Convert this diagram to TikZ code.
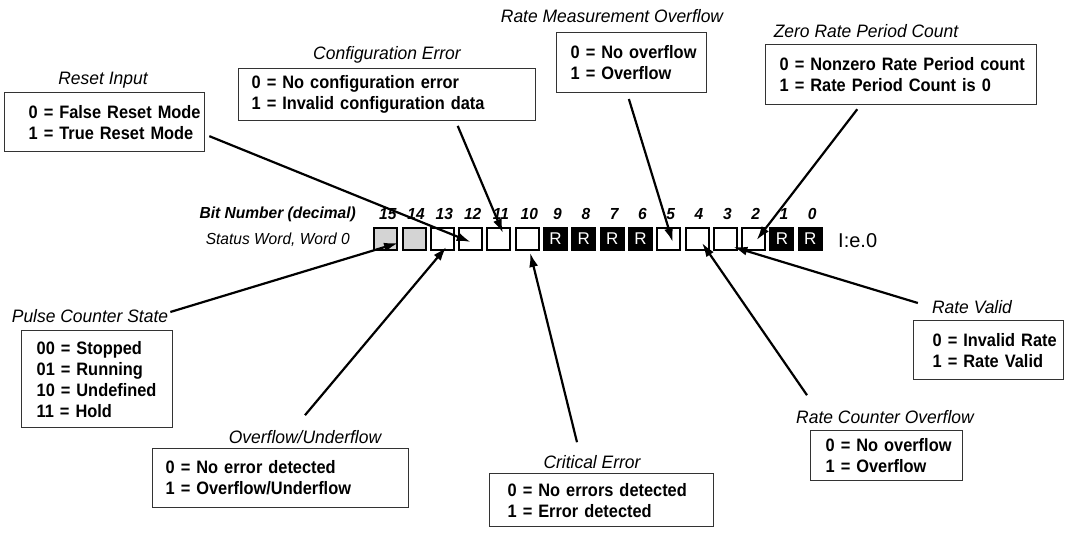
\documentclass[tikz,border=0pt]{standalone}
\usepackage{fontspec}
\setmainfont[FakeStretch=0.91]{Liberation Sans}
\newfontfamily\ttlfont[FakeStretch=0.97]{Liberation Sans}
\newfontfamily\plainfont{Liberation Sans}
\usetikzlibrary{arrows.meta,calc}
\begin{document}
\begin{tikzpicture}[x=1pt,y=-1pt,
  box/.style={draw=black!80, line width=1.3pt, anchor=north west, align=left,
    font=\fontsize{18}{21}\selectfont\bfseries, inner ysep=0pt},
  ttl/.style={font=\ttlfont\itshape\fontsize{18}{21}\selectfont, inner sep=0pt},
  cellbase/.style={minimum width=23pt, minimum height=22pt, line width=2pt, inner sep=0pt, draw=black},
  wcell/.style={cellbase, fill=white},
  gcell/.style={cellbase, fill=black!17},
  rcell/.style={cellbase, fill=black, text=white, font=\plainfont\fontsize{17}{17}\selectfont},
  bitno/.style={font=\ttlfont\bfseries\itshape\fontsize{16}{16}\selectfont, inner sep=0pt},
  lbl/.style={font=\ttlfont\itshape\fontsize{16}{16}\selectfont, inner sep=0pt},
  arr/.style={line width=2.2pt, -{Latex[length=14pt,width=9pt]}}
]
\useasboundingbox (0,0) rectangle (1072,534);

% ---- bit cells ----
\node[gcell] (c15) at (385.75,239) {};
\node[gcell] (c14) at (414.05,239) {};
\node[wcell] (c13) at (442.35,239) {};
\node[wcell] (c12) at (470.65,239) {};
\node[wcell] (c11) at (498.95,239) {};
\node[wcell] (c10) at (527.25,239) {};
\node[rcell] (c9) at (555.55,239) {R};
\node[rcell] (c8) at (583.85,239) {R};
\node[rcell] (c7) at (612.15,239) {R};
\node[rcell] (c6) at (640.45,239) {R};
\node[wcell] (c5) at (668.75,239) {};
\node[wcell] (c4) at (697.05,239) {};
\node[wcell] (c3) at (725.35,239) {};
\node[wcell] (c2) at (753.65,239) {};
\node[rcell] (c1) at (781.95,239) {R};
\node[rcell] (c0) at (810.25,239) {R};

\foreach \i in {15,...,0}{
  \node[bitno] (n\i) at ($(c\i.center)+(2,-25)$) {\i};
}
\node[bitno, anchor=east] (bitlbl) at (356,214) {Bit Number (decimal)};
\node[lbl, anchor=east] (wordlbl) at (350,240) {Status Word, Word 0};
\node[font=\plainfont\fontsize{20}{20}\selectfont, inner sep=0pt, anchor=west] (addr) at (838,241) {I:e.0};

% ---- boxes and titles ----
\node[ttl] (rtitle) at (103,80) {Reset Input};
\node[box, minimum width=200pt, minimum height=59pt, inner xsep=24pt, text width=152pt] (reset) at (4,92)
  {\mbox{0 = False Reset Mode}\\\mbox{1 = True Reset Mode}};

\node[ttl] (cftitle) at (387,55) {Configuration Error};
\node[box, minimum width=297pt, minimum height=52pt, inner xsep=13pt, text width=271pt] (config) at (238,68)
  {\mbox{0 = No configuration error}\\\mbox{1 = Invalid configuration data}};

\node[ttl] (rmtitle) at (612,16) {Rate Measurement Overflow};
\node[box, minimum width=150pt, minimum height=60pt, inner xsep=14pt, text width=122pt] (rmo) at (556,32)
  {\mbox{0 = No overflow}\\\mbox{1 = Overflow}};

\node[ttl] (ztitle) at (866,31) {Zero Rate Period Count};
\node[box, minimum width=271pt, minimum height=60pt, inner xsep=14pt, text width=243pt] (zero) at (765,44)
  {\mbox{0 = Nonzero Rate Period count}\\\mbox{1 = Rate Period Count is 0}};

\node[ttl] (ptitle) at (90,316) {Pulse Counter State};
\node[box, minimum width=151pt, minimum height=97pt, inner xsep=15pt, text width=121pt] (pulse) at (21,330)
  {\mbox{00 = Stopped}\\\mbox{01 = Running}\\\mbox{10 = Undefined}\\\mbox{11 = Hold}};

\node[ttl] (otitle) at (305,437) {Overflow/Underflow};
\node[box, minimum width=256pt, minimum height=59pt, inner xsep=13pt, text width=230pt] (ovun) at (152,448)
  {\mbox{0 = No error detected}\\\mbox{1 = Overflow/Underflow}};

\node[ttl] (ctitle) at (592,462) {Critical Error};
\node[box, minimum width=224pt, minimum height=53pt, inner xsep=18pt, text width=188pt] (crit) at (489,473)
  {\mbox{0 = No errors detected}\\\mbox{1 = Error detected}};

\node[ttl] (rvtitle) at (972,307) {Rate Valid};
\node[box, minimum width=150pt, minimum height=59pt, inner xsep=19pt, text width=112pt] (rv) at (913,320)
  {\mbox{0 = Invalid Rate}\\\mbox{1 = Rate Valid}};

\node[ttl] (rcotitle) at (885,417) {Rate Counter Overflow};
\node[box, minimum width=152pt, minimum height=50pt, inner xsep=15pt, text width=122pt] (rco) at (810,430)
  {\mbox{0 = No overflow}\\\mbox{1 = Overflow}};

% ---- arrow tips ----
\coordinate (t12) at ($(c12.center)+(0,3)$);
\coordinate (t11) at ($(c11.center)+(4,-6)$);
\coordinate (t5) at ($(c5.center)+(4,3)$);
\coordinate (t2) at ($(c2.center)+(3,1)$);
\coordinate (t1514) at ($(c14.center)+(-16,4)$);
\coordinate (t13) at ($(c13.center)+(4,8)$);
\coordinate (t10) at ($(c10.center)+(3,14)$);
\coordinate (t4) at ($(c4.center)+(5,4)$);
\coordinate (t3) at ($(c3.center)+(8,8)$);

% ---- connectors ----
\draw[arr] ($(reset.east)+(4,14)$) -- (t12);
\draw[arr, shorten <=5pt] ($(config.south west)!0.73!(config.south east)$) -- (t11);
\draw[arr, shorten <=6pt] ($(rmo.south west)!0.47!(rmo.south east)$) -- (t5);
\draw[arr, shorten <=5pt] ($(zero.south west)!0.35!(zero.south east)$) -- (t2);
\draw[arr] ($(ptitle.east)+(2,-4)$) -- (t1514);
\draw[arr] ($(otitle.north)+(0,-15)$) -- (t13);
\draw[arr] ($(ctitle.north)+(-15,-13)$) -- (t10);
\draw[arr] ($(rcotitle.north west)+(11,-15)$) -- (t4);
\draw[arr] ($(rvtitle.west)+(-14,-4)$) -- (t3);
\end{tikzpicture}
\end{document}
